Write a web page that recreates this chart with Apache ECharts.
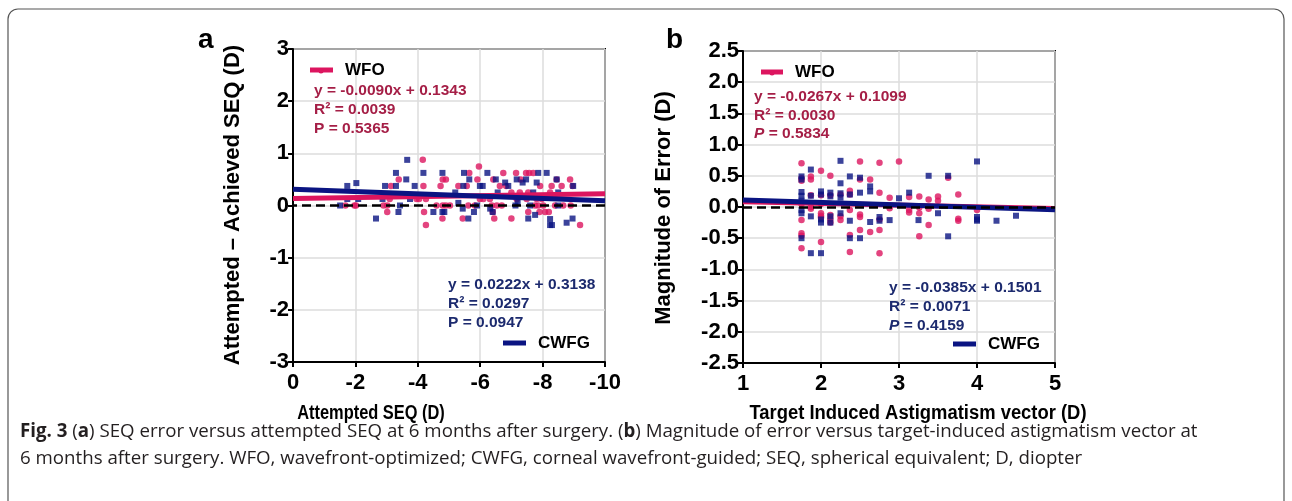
<!DOCTYPE html>
<html>
<head>
<meta charset="utf-8">
<script src="https://cdn.jsdelivr.net/npm/echarts@6/dist/echarts.min.js"></script>
<style>
html, body { margin: 0; padding: 0; background: #fff; }
#main { width: 1292px; height: 501px; }
</style>
</head>
<body>
<div id="main"></div>
<script>
// panel a: attempted SEQ (D) vs attempted - achieved SEQ (D)
var wfoA = [
    [-1.68, 0], [-1.97, 0], [-2.02, 0], [-2.9, 0], [-3.02, 0], [-3.02, -0.125], [-3.1, 0.125],
    [-3.14, 0.375], [-3.39, 0.5], [-3.96, 0.125], [-4.04, 0.125], [-4.16, 0.875], [-4.18, 0.375],
    [-4.2, -0.125], [-4.26, 0.125], [-4.26, -0.375], [-4.6, 0], [-4.73, 0.375], [-4.79, -0.25],
    [-4.8, 0.5], [-4.8, 0], [-4.9, 0.5], [-4.9, 0], [-5.03, 0], [-5.3, 0.375], [-5.44, -0.25],
    [-5.57, 0.375], [-5.62, 0], [-5.65, 0.625], [-5.83, 0], [-5.91, 0.5], [-5.96, 0.75],
    [-5.99, 0.125], [-6.1, 0.125], [-6.31, 0.125], [-6.37, 0], [-6.4, -0.125], [-6.42, 0.5],
    [-6.45, -0.25], [-6.53, 0], [-6.63, 0.375], [-6.69, 0], [-6.74, 0.625], [-6.83, 0.375],
    [-7.0, 0.25], [-7.0, -0.25], [-7.15, 0.625], [-7.17, 0.125], [-7.27, 0.25], [-7.3, 0.5],
    [-7.47, 0.625], [-7.49, 0.125], [-7.54, 0.25], [-7.54, -0.125], [-7.57, 0.625], [-7.7, 0.625],
    [-7.76, 0], [-7.81, 0.125], [-7.86, 0], [-7.9, -0.125], [-7.92, 0.375], [-7.97, 0.125],
    [-8.02, 0], [-8.08, -0.125], [-8.2, -0.125], [-8.24, 0.25], [-8.29, 0.375], [-8.4, 0],
    [-8.45, 0.5], [-8.61, 0.375], [-8.66, 0], [-8.88, 0.5], [-8.9, 0], [-8.96, 0.375], [-9.2, -0.375]
];
var cwfgA = [
    [-1.51, 0], [-1.74, 0.375], [-1.74, 0.125], [-2.03, 0.43], [-2.09, 0.125], [-2.66, -0.25],
    [-2.87, 0.125], [-2.95, 0.375], [-3.3, 0.625], [-3.3, 0.375], [-3.38, -0.125], [-3.43, 0],
    [-3.63, 0.5], [-3.66, 0.875], [-3.75, 0.125], [-3.9, 0.375], [-4.18, 0.625], [-4.5, -0.125],
    [-4.79, 0.625], [-4.79, -0.125], [-4.85, -0.125], [-5.2, 0.25], [-5.3, 0.05], [-5.44, -0.06],
    [-5.46, 0.375], [-5.48, 0.625], [-5.62, -0.25], [-5.65, 0.5], [-5.8, -0.125], [-5.9, 0],
    [-5.99, 0.375], [-6.08, 0.375], [-6.23, 0.625], [-6.32, -0.06], [-6.4, -0.125], [-6.5, 0.5],
    [-6.56, 0.25], [-6.8, 0.44], [-6.9, 0.375], [-7.13, 0], [-7.17, 0.5], [-7.2, 0.05],
    [-7.36, 0.44], [-7.47, 0.5], [-7.54, -0.25], [-7.6, 0], [-7.7, 0.25], [-7.76, -0.18],
    [-7.81, 0.44], [-7.86, 0.625], [-8.13, 0.625], [-8.24, -0.26], [-8.24, -0.375], [-8.3, -0.375],
    [-8.45, 0.5], [-8.5, 0.25], [-8.5, 0], [-8.77, -0.33], [-8.96, -0.25], [-8.98, 0.375]
];
// panel b: target induced astigmatism (D) vs magnitude of error (D)
var wfoB = [
    [1.75, 0.70], [1.75, 0.46], [1.75, 0.42], [1.75, 0.05], [1.75, -0.21], [1.75, -0.42], [1.75, -0.46], [1.75, -0.66],
    [1.87, 0.49], [1.87, 0.44], [1.87, 0.19], [1.87, 0], [1.87, -0.03],
    [2.0, 0.58], [2.0, 0.19], [2.0, 0.05], [2.0, -0.1], [2.0, -0.14], [2.0, -0.17], [2.0, -0.56],
    [2.12, 0.5], [2.12, 0.19], [2.12, -0.13], [2.12, -0.19], [2.12, -0.25],
    [2.25, 0.2], [2.25, -0.15], [2.25, -0.21],
    [2.37, 0.26], [2.37, 0.2], [2.37, -0.05], [2.37, -0.45], [2.37, -0.72],
    [2.5, 0.73], [2.5, 0.44], [2.5, -0.12], [2.5, -0.16], [2.5, -0.37],
    [2.63, 0.44], [2.63, -0.4],
    [2.75, 0.71], [2.75, 0.23], [2.75, -0.2], [2.75, -0.37], [2.75, -0.74],
    [2.88, 0.15], [2.88, -0.02], [3.0, 0.73],
    [3.13, 0.16], [3.13, -0.05], [3.13, -0.09],
    [3.26, 0.17], [3.26, -0.01], [3.26, -0.1], [3.26, -0.47],
    [3.38, 0.12], [3.38, -0.03], [3.38, -0.29],
    [3.5, 0.17], [3.5, 0.1], [3.63, 0.47],
    [3.76, 0.2], [3.76, -0.19], [3.76, -0.22], [4.0, -0.05]
];
var cwfgB = [
    [1.75, 0.49], [1.75, 0.44], [1.75, 0.24], [1.75, 0.18], [1.75, 0.1], [1.75, -0.05], [1.75, -0.1], [1.75, -0.5],
    [1.87, 0.6], [1.87, 0.18], [1.87, -0.15], [1.87, -0.74],
    [2.0, 0.25], [2.0, 0.2], [2.0, -0.2], [2.0, -0.25], [2.0, -0.74],
    [2.12, 0.23], [2.12, 0.17], [2.12, -0.15], [2.12, -0.25],
    [2.25, 0.74], [2.25, 0.38], [2.25, 0.22], [2.25, 0.15], [2.25, -0.1],
    [2.37, 0.49], [2.37, 0.2], [2.37, -0.22], [2.37, -0.5],
    [2.5, 0.47], [2.5, 0.23], [2.5, -0.5],
    [2.63, 0.33], [2.63, 0.25], [2.63, -0.24],
    [2.75, -0.16], [2.75, -0.22], [2.88, -0.21], [3.0, 0.14], [3.13, 0.23], [3.25, -0.21],
    [3.38, 0.5], [3.5, -0.1], [3.63, 0.5], [3.63, -0.47],
    [4.0, 0.73], [4.0, -0.16], [4.0, -0.2], [4.0, -0.22], [4.25, -0.22], [4.5, -0.14]
];
// regression fits [slope, intercept]
var fitWfoA = [-0.0090, 0.1343];
var fitCwfgA = [0.0222, 0.3138];
var fitWfoB = [-0.0267, 0.1099];
var fitCwfgB = [-0.0385, 0.1501];
var statWfoA = ['y = -0.0090x + 0.1343', 'R\u00b2 = 0.0039', 'P = 0.5365'];
var statCwfgA = ['y = 0.0222x + 0.3138', 'R\u00b2 = 0.0297', 'P = 0.0947'];
var statWfoB = ['y = -0.0267x + 0.1099', 'R\u00b2 = 0.0030', '0.5834'];
var statCwfgB = ['y = -0.0385x + 0.1501', 'R\u00b2 = 0.0071', '0.4159'];

var PINK = '#dc155f', PINK_TXT = '#a51e46', NAVY = '#0a1482', NAVY_TXT = '#1c2a6e';
var FONT = '"Liberation Sans", Arial, sans-serif';

function fitLine(fit, x0, x1) {
    return [[x0, fit[0] * x0 + fit[1]], [x1, fit[0] * x1 + fit[1]]];
}

function xAxisOf(idx, min, max, interval, inverse) {
    return {
        type: 'value', gridIndex: idx, min: min, max: max, interval: interval, inverse: inverse,
        axisLine: {show: true, onZero: false, lineStyle: {color: '#000', width: 2}},
        axisTick: {show: true, length: 5, lineStyle: {color: '#000', width: 2}},
        axisLabel: {color: '#000', fontSize: 22, fontWeight: 'bold', fontFamily: FONT, margin: 10},
        splitLine: {show: true, lineStyle: {color: '#dcdcdc', width: 1.5}}
    };
}
function yAxisOf(idx, min, max, interval, fmt) {
    return {
        type: 'value', gridIndex: idx, min: min, max: max, interval: interval,
        axisLine: {show: true, onZero: false, lineStyle: {color: '#000', width: 2}},
        axisTick: {show: true, length: 5, lineStyle: {color: '#000', width: 2}},
        axisLabel: {color: '#000', fontSize: 22, fontWeight: 'bold', fontFamily: FONT, margin: 4, formatter: fmt},
        splitLine: {show: true, lineStyle: {color: '#dcdcdc', width: 1.5}}
    };
}
function pts(data, idx, color, symbol, zero) {
    var s = {
        type: 'scatter', xAxisIndex: idx, yAxisIndex: idx, data: data,
        symbol: symbol, symbolSize: symbol === 'rect' ? 6 : 6.5,
        itemStyle: {color: color}, silent: true
    };
    if (zero) {
        s.markLine = {
            silent: true, symbol: ['none', 'none'], label: {show: false},
            lineStyle: {color: '#000', type: [9, 5], width: 2.5},
            data: [{yAxis: 0}]
        };
    }
    return s;
}
function fit(data, idx, color) {
    return {
        type: 'line', xAxisIndex: idx, yAxisIndex: idx, data: data, showSymbol: false,
        lineStyle: {color: color, width: 5}, silent: true
    };
}
function txt(x, y, s, color, size, extra) {
    var st = {text: s, fill: color, font: 'bold ' + size + 'px ' + FONT, align: 'left', verticalAlign: 'middle'};
    for (var k in extra) st[k] = extra[k];
    return {type: 'text', x: x, y: y, style: st, z: 100};
}
function legLine(x0, x1, y, color, w) {
    return {type: 'line', shape: {x1: x0, y1: y, x2: x1, y2: y}, style: {stroke: color, lineWidth: w}, z: 100};
}

var CAP_FONT = '"Open Sans", sans-serif';
var xTitleA = txt(371, 413, 'Attempted SEQ (D)', '#000', 20, {align: 'center'});
xTitleA.scaleX = 0.82;
var xTitleB = txt(918, 413, 'Target Induced Astigmatism vector (D)', '#000', 20, {align: 'center'});
xTitleB.scaleX = 0.92;

var graphics = [
    {type: 'rect', shape: {x: 8, y: 9, width: 1276, height: 520, r: 10}, style: {fill: 'none', stroke: '#555', lineWidth: 1.2}},
    txt(198, 40, 'a', '#000', 28),
    txt(666, 40, 'b', '#000', 28),
    // panel a legend + stats
    legLine(310, 333, 70, PINK, 5),
    {type: 'circle', shape: {cx: 321, cy: 71, r: 2.5}, style: {fill: PINK}, z: 101},
    txt(345, 70, 'WFO', '#000', 17),
    txt(314, 91, statWfoA[0], PINK_TXT, 15.5),
    txt(314, 110, statWfoA[1], PINK_TXT, 15.5),
    txt(314, 129, statWfoA[2], PINK_TXT, 15.5),
    txt(448, 285, statCwfgA[0], NAVY_TXT, 15.5),
    txt(448, 304, statCwfgA[1], NAVY_TXT, 15.5),
    txt(448, 323, statCwfgA[2], NAVY_TXT, 15.5),
    legLine(503, 526, 343, NAVY, 5),
    txt(538, 343, 'CWFG', '#000', 17),
    // panel b legend + stats
    legLine(761, 783, 72, PINK, 5),
    {type: 'circle', shape: {cx: 772, cy: 73, r: 2.5}, style: {fill: PINK}, z: 101},
    txt(795, 72, 'WFO', '#000', 17),
    txt(754, 97, statWfoB[0], PINK_TXT, 15.5),
    txt(754, 116, statWfoB[1], PINK_TXT, 15.5),
    {type: 'text', x: 754, y: 134, z: 100, style: {
        text: '{i|P} = ' + statWfoB[2], fill: PINK_TXT, font: 'bold 15.5px ' + FONT, verticalAlign: 'middle',
        rich: {i: {fontStyle: 'italic', fontWeight: 'bold', fontSize: 15.5, fontFamily: FONT, fill: PINK_TXT}}}},
    txt(889, 288, statCwfgB[0], NAVY_TXT, 15.5),
    txt(889, 307, statCwfgB[1], NAVY_TXT, 15.5),
    {type: 'text', x: 889, y: 326, z: 100, style: {
        text: '{i|P} = ' + statCwfgB[2], fill: NAVY_TXT, font: 'bold 15.5px ' + FONT, verticalAlign: 'middle',
        rich: {i: {fontStyle: 'italic', fontWeight: 'bold', fontSize: 15.5, fontFamily: FONT, fill: NAVY_TXT}}}},
    legLine(953, 976, 344, NAVY, 5),
    txt(988, 344, 'CWFG', '#000', 17),
    // axis titles
    xTitleA,
    xTitleB,
    {type: 'text', x: 233, y: 205, rotation: Math.PI / 2, z: 100, style: {
        text: 'Attempted \u2013 Achieved SEQ (D)', fill: '#000', font: 'bold 22px ' + FONT, align: 'center', verticalAlign: 'middle'}},
    {type: 'text', x: 664, y: 208, rotation: Math.PI / 2, z: 100, style: {
        text: 'Magnitude of Error (D)', fill: '#000', font: 'bold 22px ' + FONT, align: 'center', verticalAlign: 'middle'}},
    // caption
    {type: 'text', x: 20, y: 418, z: 100, style: {
        text: '{b|Fig. 3} ({b|a}) SEQ error versus attempted SEQ at 6 months after surgery. ({b|b}) Magnitude of error versus target-induced astigmatism vector at\n6 months after surgery. WFO, wavefront-optimized; CWFG, corneal wavefront-guided; SEQ, spherical equivalent; D, diopter',
        fill: '#231f20', font: '18.7px ' + CAP_FONT, verticalAlign: 'top', lineHeight: 27,
        rich: {b: {fontWeight: 'bold', fontSize: 18.7, fontFamily: CAP_FONT, fill: '#231f20', lineHeight: 27}}}}
];

var chart = echarts.init(document.getElementById('main'));
chart.setOption({
    backgroundColor: '#fff',
    animation: false,
    grid: [
        {left: 293, top: 49, width: 312, height: 313, show: true, borderColor: '#000', borderWidth: 2},
        {left: 743, top: 51, width: 312, height: 312, show: true, borderColor: '#000', borderWidth: 2}
    ],
    xAxis: [xAxisOf(0, -10, 0, 2, true), xAxisOf(1, 1, 5, 1, false)],
    yAxis: [
        yAxisOf(0, -3, 3, 1, function (v) { return String(v); }),
        yAxisOf(1, -2.5, 2.5, 0.5, function (v) { return v.toFixed(1); })
    ],
    series: [
        pts(wfoA, 0, PINK, 'circle', true),
        pts(cwfgA, 0, NAVY, 'rect', false),
        fit(fitLine(fitWfoA, -10, 0), 0, PINK),
        fit(fitLine(fitCwfgA, -10, 0), 0, NAVY),
        pts(wfoB, 1, PINK, 'circle', true),
        pts(cwfgB, 1, NAVY, 'rect', false),
        fit(fitLine(fitWfoB, 1, 5), 1, PINK),
        fit(fitLine(fitCwfgB, 1, 5), 1, NAVY)
    ],
    graphic: graphics
});
</script>
</body>
</html>
